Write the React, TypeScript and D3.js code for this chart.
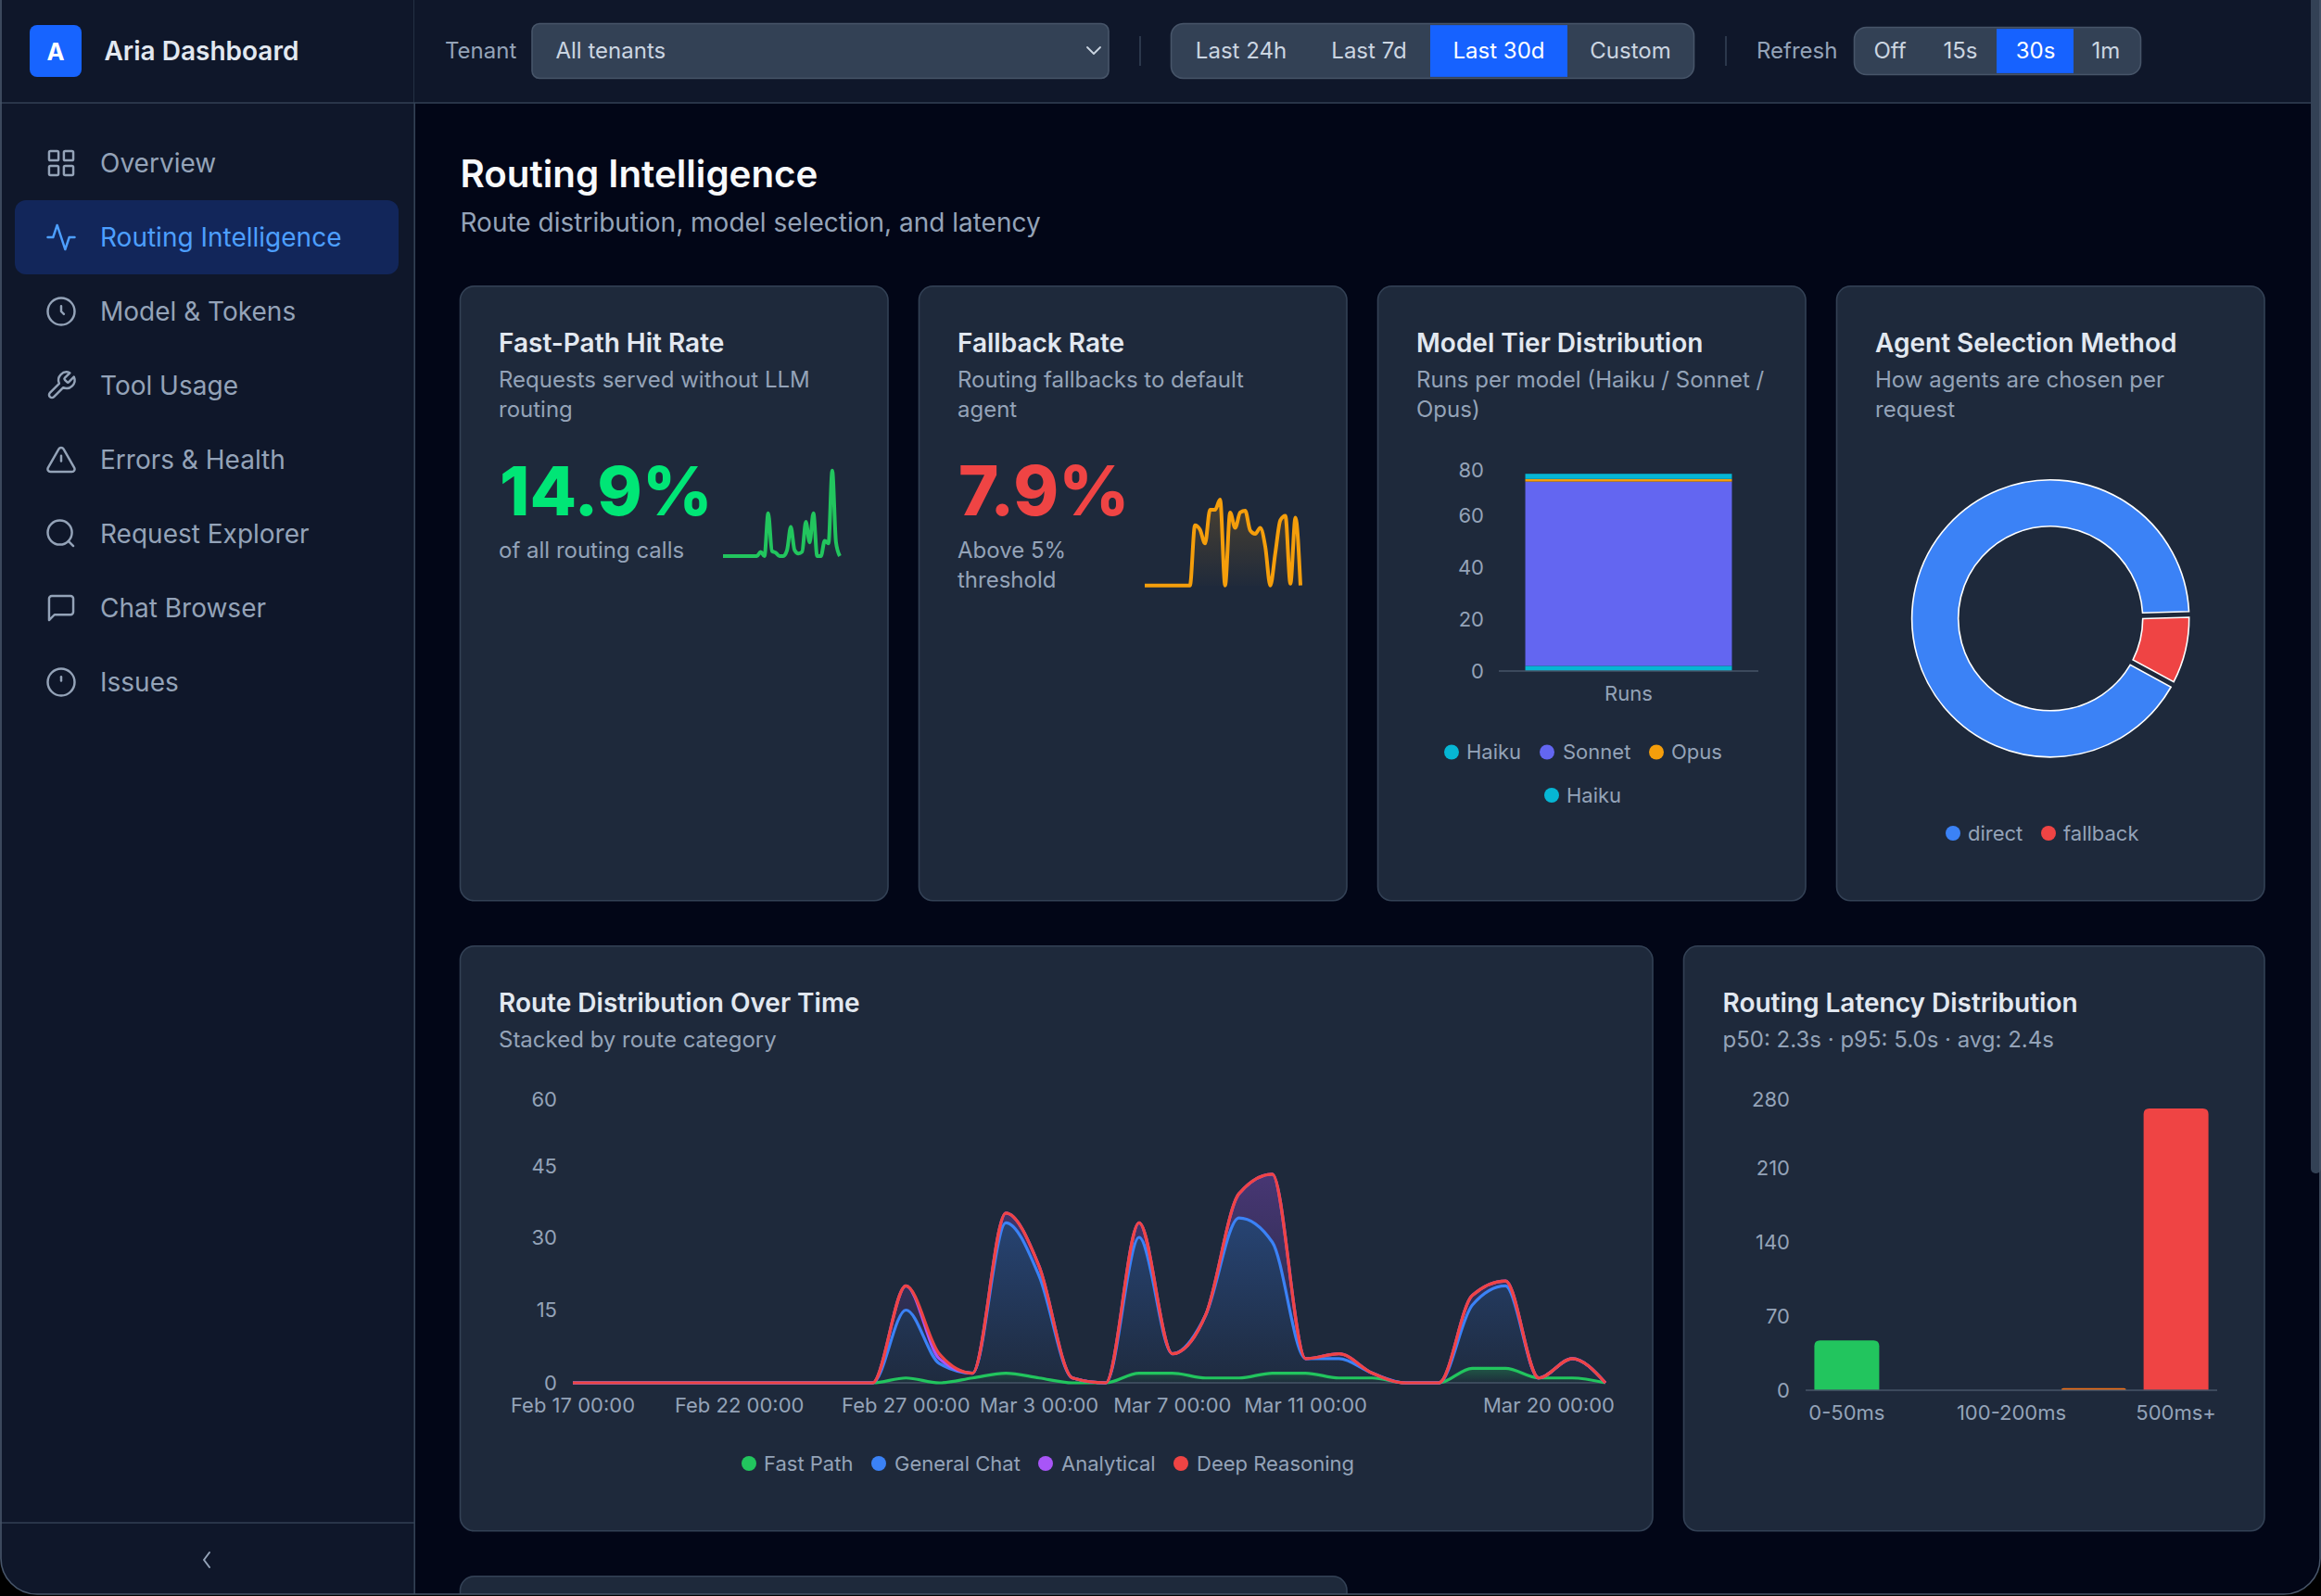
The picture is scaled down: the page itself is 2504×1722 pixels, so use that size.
import React from "react";
import * as d3 from "d3";

// ---------- data ----------
const navItems = ["Overview", "Routing Intelligence", "Model & Tokens", "Tool Usage", "Errors & Health", "Request Explorer", "Chat Browser", "Issues"];
const rangeOptions = ["Last 24h", "Last 7d", "Last 30d", "Custom"];
const refreshOptions = ["Off", "15s", "30s", "1m"];

const dayCount = 32;
const firstDay = new Date(2026, 1, 17);
const fastPath = [0,0,0,0,0,0,0,0,0,0,1,0,1,2,1,0,0,2,2,1,1,2,2,1,1,0,0,3,3,1,1,0];
const generalChat = [0,0,0,0,0,0,0,0,0,0,14,4,1,31,21,1,0,28,4,13,33,27,3,4,1,0,0,13,17,0,4,0];
const analytical = [0,0,0,0,0,0,0,0,0,0,5,1,0,2,2,0,0,3,0,0,5,14,0,1,0,0,0,2,1,0,0,0];
const deepReasoning = [0,0,0,0,0,0,0,0,0,0,0,1,0,0,0,0,0,0,0,0,0,0,0,0,0,0,0,0,0,0,0,0];
const routeNames = ["Fast Path", "General Chat", "Analytical", "Deep Reasoning"];
const routeColors = ["#22c55e", "#3b82f6", "#a855f7", "#ef4444"];
const routeTicks = [0, 15, 30, 45, 60];
const routeDateTicks = [[0, "Feb 17 00:00"], [5, "Feb 22 00:00"], [10, "Feb 27 00:00"], [14, "Mar 3 00:00"], [18, "Mar 7 00:00"], [22, "Mar 11 00:00"], [31, "Mar 20 00:00"]] as const;

const fastPathRate = [0,0,0,0,0,0,0,0,0,0,5,0,50,6,4,0,0,7,34,7,3,5,40,16,50,0,0,18,15,100,16,0];
const fallbackRate = [0,0,0,0,0,0,0,0,0,0,70,65,49,88,88,100,0,85,67,85,87,64,60,67,45,0,38,76,81,2,79,0];

const tierNames = ["Haiku", "Sonnet", "Opus", "Haiku"];
const tierValues = [2, 71, 1, 2];
const tierColors = ["#06b6d4", "#6366f1", "#f59e0b", "#06b6d4"];
const tierTicks = [0, 20, 40, 60, 80];

const methodNames = ["direct", "fallback"];
const methodValues = [92.1, 7.9];
const methodColors = ["#3b82f6", "#ef4444"];

const latencyBuckets = ["0-50ms", "50-100ms", "100-200ms", "200-500ms", "500ms+"];
const latencyValues = [47, 0, 0, 2, 266];
const latencyColors = ["#22c55e", "#84cc16", "#eab308", "#f97316", "#ef4444"];
const latencyTicks = [0, 70, 140, 210, 280];
const latencyLabels = ["0-50ms", "100-200ms", "500ms+"];

// ---------- palette ----------
const BG = "#020617";
const PANEL = "#0f172a";
const CARD = "#1e293b";
const LINE = "#334155";
const AXIS = "#475569";
const MUTED = "#94a3b8";
const TITLE = "#e2e8f0";
const FONT = "Inter, sans-serif";
const SMALL = 22;
const BODY = 24;
const NAV = 28;
const CARD_TITLE = 28;

type TP = { x: number; y: number; size: number; fill?: string; weight?: number; anchor?: string; children: React.ReactNode };
const T = ({ x, y, size, fill = MUTED, weight = 400, anchor = "start", children }: TP) => (
  <text x={x} y={weight !== 400 ? y : size === BODY ? y - 1 : y - 0.2} fontSize={size} fill={fill} fontWeight={weight} textAnchor={anchor as any} dominantBaseline="central" fontFamily={FONT}>{children}</text>
);

const Card = ({ x, y, w, h }: { x: number; y: number; w: number; h: number }) => (
  <rect x={x} y={y + 0.8} width={w} height={h} rx={15} fill={CARD} stroke={LINE} strokeWidth={1.6} />
);

const Legend = ({ items, y }: { items: [string, string, number, number][]; y: number }) => (
  <g>
    {items.map(([name, color, cx, tx]) => (
      <g key={name + cx}>
        <circle cx={cx} cy={y} r={8} fill={color} />
        <T x={tx} y={y} size={SMALL}>{name}</T>
      </g>
    ))}
  </g>
);

const iconPaths: React.ReactNode[] = [
  <><rect x="3" y="3" width="7" height="7" rx="1" /><rect x="14" y="3" width="7" height="7" rx="1" /><rect x="3" y="14" width="7" height="7" rx="1" /><rect x="14" y="14" width="7" height="7" rx="1" /></>,
  <path d="M22 12h-4l-3 9L9 3l-3 9H2" />,
  <><circle cx="12" cy="12" r="10" /><path d="M12 8v4l2 2" /></>,
  <path d="M14.7 6.3a1 1 0 0 0 0 1.4l1.6 1.6a1 1 0 0 0 1.4 0l3.77-3.77a6 6 0 0 1-7.94 7.94l-6.91 6.91a2.12 2.12 0 0 1-3-3l6.91-6.91a6 6 0 0 1 7.94-7.94l-3.76 3.76z" />,
  <><path d="m21.73 18-8-14a2 2 0 0 0-3.48 0l-8 14A2 2 0 0 0 4 21h16a2 2 0 0 0 1.73-3" /><path d="M12 9v4" /></>,
  <><circle cx="11" cy="11" r="9" /><path d="m21 21-3.6-3.6" /></>,
  <path d="M21 15a2 2 0 0 1-2 2H7l-4 4V5a2 2 0 0 1 2-2h14a2 2 0 0 1 2 2z" />,
  <><circle cx="12" cy="12" r="10" /><path d="M12 8v3" /></>,
];

function Sidebar() {
  const s = 1.45;
  return (
    <g>
      <rect x={0} y={0} width={447} height={1722} fill={PANEL} />
      <rect x={32} y={27} width={56} height={56} rx={8} fill="#1764ff" />
      <T x={60} y={55} size={25.6} fill="#fff" weight={700} anchor="middle">A</T>
      <T x={112.5} y={55} size={28} fill={TITLE} weight={600}>Aria Dashboard</T>
      <rect x={16} y={216} width={414} height={80} rx={12} fill="#12265a" />
      {navItems.map((name, i) => {
        const cy = 176 + i * 80;
        const active = i === 1;
        const col = active ? "#4d9fff" : MUTED;
        return (
          <g key={name}>
            <g transform={`translate(${66 - 12 * s},${cy - 12 * s}) scale(${s})`} fill="none" stroke={col} strokeWidth={1.7} strokeLinecap="round" strokeLinejoin="round">
              {iconPaths[i]}
            </g>
            <T x={108} y={cy} size={NAV} fill={col}>{name}</T>
          </g>
        );
      })}
      <line x1={0} x2={447} y1={1643} y2={1643} stroke={LINE} strokeWidth={1.6} />
      <path d="M226 1675l-6 8 6 8" fill="none" stroke={MUTED} strokeWidth={2} strokeLinecap="round" strokeLinejoin="round" />
      <line x1={447.2} x2={447.2} y1={0} y2={1722} stroke={LINE} strokeWidth={1.6} />
    </g>
  );
}

function Segmented({ x, y, w, h, labels, centers, active, activeX, activeW }: { x: number; y: number; w: number; h: number; labels: string[]; centers: number[]; active: number; activeX: number; activeW: number }) {
  return (
    <g>
      <rect x={x} y={y} width={w} height={h} rx={13} fill={LINE} stroke={AXIS} strokeWidth={1.6} />
      <rect x={activeX} y={y + 1.6} width={activeW} height={h - 3.2} fill="#1662ff" />
      {labels.map((l, i) => (
        <T key={l} x={centers[i]} y={55} size={BODY} fill={i === active ? "#fff" : "#cbd5e1"} anchor="middle">{l}</T>
      ))}
    </g>
  );
}

function Header() {
  return (
    <g>
      <rect x={447} y={0} width={2046} height={111} fill={PANEL} />
      <line x1={0} x2={2493} y1={111} y2={111} stroke={LINE} strokeWidth={1.6} />
      <T x={480} y={55} size={BODY}>Tenant</T>
      <rect x={574} y={25.5} width={622} height={59} rx={8} fill={LINE} stroke={AXIS} strokeWidth={1.6} />
      <T x={599.5} y={55} size={BODY} fill="#cbd5e1">All tenants</T>
      <path d="M1173 51l7 7 7-7" fill="none" stroke="#cbd5e1" strokeWidth={1.8} strokeLinecap="round" strokeLinejoin="round" />
      <line x1={1230} x2={1230} y1={39} y2={71} stroke={LINE} strokeWidth={1.6} />
      <Segmented x={1263.5} y={25.5} w={564} h={59} labels={rangeOptions} centers={[1339, 1477, 1617, 1759]} active={2} activeX={1543} activeW={148} />
      <line x1={1862} x2={1862} y1={39} y2={71} stroke={LINE} strokeWidth={1.6} />
      <T x={1895} y={55} size={BODY}>Refresh</T>
      <Segmented x={2000.5} y={29.5} w={309} h={51} labels={refreshOptions} centers={[2039, 2115, 2196, 2272]} active={2} activeX={2154} activeW={83} />
    </g>
  );
}

function Spark({ values, x0, x1, yTop, yBase, color, id }: { values: number[]; x0: number; x1: number; yTop: number; yBase: number; color: string; id: string }) {
  const x = d3.scaleLinear().domain([0, values.length - 1]).range([x0, x1]);
  const y = d3.scaleLinear().domain([0, 100]).range([yBase, yTop]);
  const line = d3.line<number>().x((_, i) => x(i)).y((d) => y(d)).curve(d3.curveMonotoneX);
  const area = d3.area<number>().x((_, i) => x(i)).y0(yBase).y1((d) => y(d)).curve(d3.curveMonotoneX);
  return (
    <g>
      <defs>
        <linearGradient id={id} x1="0" y1="0" x2="0" y2="1">
          <stop offset="0%" stopColor={color} stopOpacity={0.2} />
          <stop offset="100%" stopColor={color} stopOpacity={0.01} />
        </linearGradient>
      </defs>
      <path d={area(values)!} fill={`url(#${id})`} />
      <path d={line(values)!} fill="none" stroke={color} strokeWidth={4} />
    </g>
  );
}

function ModelTier() {
  const y = d3.scaleLinear().domain([0, 80]).range([724, 500]);
  const x = d3.scaleBand<string>().domain(["Runs"]).range([1617, 1897]).paddingInner(0).paddingOuter(0.128);
  const stacked = d3.stack<number[]>().keys(tierValues.map((_, i) => String(i))).value((d, k) => d[+k])([tierValues]);
  return (
    <g>
      {tierTicks.map((t) => (
        <T key={t} x={1601} y={y(t) + (t === 80 ? 7 : 0)} size={SMALL} anchor="end">{t}</T>
      ))}
      {stacked.map((s, i) => (
        <rect key={i} x={x("Runs")} width={x.bandwidth()} y={y(s[0][1])} height={y(s[0][0]) - y(s[0][1])} fill={tierColors[i]} />
      ))}
      <line x1={1617} x2={1897} y1={724} y2={724} stroke={AXIS} strokeWidth={1.6} />
      <T x={x("Runs")! + x.bandwidth() / 2} y={748} size={SMALL} anchor="middle">Runs</T>
      <Legend y={811.5} items={[[tierNames[0], tierColors[0], 1566, 1582], [tierNames[1], tierColors[1], 1669, 1686], [tierNames[2], tierColors[2], 1787, 1803]]} />
      <Legend y={858} items={[[tierNames[3], tierColors[3], 1674, 1690]]} />
    </g>
  );
}

function Donut() {
  const start = Math.PI / 2 + (methodValues[1] / 100) * 2 * Math.PI;
  const pie = d3.pie<number>().sort(null).startAngle(start).endAngle(start + 2 * Math.PI).padAngle((2 * Math.PI) / 180);
  const arc = d3.arc<d3.PieArcDatum<number>>().innerRadius(99.5).outerRadius(149.5);
  const arcs = pie(methodValues);
  return (
    <g transform="translate(2212.2,667.3)">
      {arcs.map((a, i) => (
        <path key={i} d={arc(a)!} fill={methodColors[i]} stroke="#fff" strokeWidth={1.6} />
      ))}
    </g>
  );
}

function RouteChart() {
  const x = d3.scaleTime().domain([firstDay, d3.timeDay.offset(firstDay, dayCount - 1)]).range([618, 1732]);
  const y = d3.scaleLinear().domain([0, 60]).range([1492, 1178]);
  const rows = d3.range(dayCount).map((i) => ({ i, f: fastPath[i], g: generalChat[i], a: analytical[i], d: deepReasoning[i] }));
  const series = d3.stack<any>().keys(["f", "g", "a", "d"])(rows);
  const px = (i: number) => x(d3.timeDay.offset(firstDay, i));
  const area = d3.area<any>().x((_, i) => px(i)).y0((d) => y(d[0])).y1((d) => y(d[1])).curve(d3.curveMonotoneX);
  const line = d3.line<any>().x((_, i) => px(i)).y((d) => y(d[1])).curve(d3.curveMonotoneX);
  return (
    <g>
      <defs>
        {routeColors.map((c, i) => (
          <linearGradient key={c} id={`route${i}`} x1="0" y1="0" x2="0" y2="1">
            <stop offset="0%" stopColor={c} stopOpacity={0.3} />
            <stop offset="100%" stopColor={c} stopOpacity={0.02} />
          </linearGradient>
        ))}
      </defs>
      {routeTicks.map((t) => (
        <T key={t} x={601} y={y(t) + (t === 60 ? 8 : t === 45 ? 1.5 : 0)} size={SMALL} anchor="end">{t}</T>
      ))}
      <line x1={618} x2={1732} y1={1492} y2={1492} stroke={AXIS} strokeWidth={1.6} />
      {routeDateTicks.map(([i, label]) => (
        i === 31
          ? <T key={label} x={px(i) + 10} y={1516} size={SMALL} anchor="end">{label}</T>
          : <T key={label} x={px(i)} y={1516} size={SMALL} anchor="middle">{label}</T>
      ))}
      {series.map((s, i) => <path key={i} d={area(s as any)!} fill={`url(#route${i})`} />)}
      {series.map((s, i) => <path key={i} d={line(s as any)!} fill="none" stroke={routeColors[i]} strokeWidth={3.2} />)}
      <Legend y={1579} items={[[routeNames[0], routeColors[0], 808, 824], [routeNames[1], routeColors[1], 948, 965], [routeNames[2], routeColors[2], 1128, 1145], [routeNames[3], routeColors[3], 1274, 1291]]} />
    </g>
  );
}

function topRounded(x: number, y: number, w: number, h: number, r: number) {
  const q = Math.min(r, h);
  return `M${x},${y + h}V${y + q}Q${x},${y} ${x + q},${y}H${x + w - q}Q${x + w},${y} ${x + w},${y + q}V${y + h}Z`;
}

function LatencyChart() {
  const p = 0.212;
  const x = d3.scaleBand<string>().domain(latencyBuckets).range([1948, 2392]).paddingInner(p).paddingOuter(p / 2);
  const y = d3.scaleLinear().domain([0, 280]).range([1500, 1180]);
  return (
    <g>
      {latencyTicks.map((t) => (
        <T key={t} x={1931} y={y(t) + (t === 280 ? 6 : 0)} size={SMALL} anchor="end">{t}</T>
      ))}
      {latencyValues.map((v, i) => v > 0 && (
        <path key={i} d={topRounded(x(latencyBuckets[i])!, y(v), x.bandwidth(), y(0) - y(v), 6)} fill={latencyColors[i]} />
      ))}
      <line x1={1948} x2={2392} y1={1500} y2={1500} stroke={AXIS} strokeWidth={1.6} />
      {latencyLabels.map((l) => (
        <T key={l} x={x(l)! + x.bandwidth() / 2} y={1524} size={SMALL} anchor="middle">{l}</T>
      ))}
    </g>
  );
}

export default function App() {
  return (
    <svg width={2504} height={1722} viewBox="0 0 2504 1722" style={{ position: "fixed", left: 0, top: 0, display: "block", background: BG }}>
      <rect width={2504} height={1722} fill={BG} />
      <Sidebar />
      <Header />

      <T x={496.5} y={187.5} size={40.3} fill="#f8fafc" weight={600}>Routing Intelligence</T>
      <T x={496.5} y={240} size={28}>Route distribution, model selection, and latency</T>

      <Card x={496.5} y={308} w={461.5} h={663} />
      <T x={538} y={370} size={CARD_TITLE} fill={TITLE} weight={600}>Fast-Path Hit Rate</T>
      <T x={538} y={410} size={BODY}>Requests served without LLM</T>
      <T x={538} y={442} size={BODY}>routing</T>
      <T x={539} y={529} size={73.5} fill="#00e676" weight={800}>14.9%</T>
      <T x={538} y={594} size={BODY}>of all routing calls</T>
      <Spark values={fastPathRate} x0={780} x1={906} yTop={507.7} yBase={600} color="#22c55e" id="sparkA" />

      <Card x={991.5} y={308} w={461.5} h={663} />
      <T x={1033} y={370} size={CARD_TITLE} fill={TITLE} weight={600}>Fallback Rate</T>
      <T x={1033} y={410} size={BODY}>Routing fallbacks to default</T>
      <T x={1033} y={442} size={BODY}>agent</T>
      <T x={1034} y={529} size={74} fill="#ef4444" weight={800}>7.9%</T>
      <T x={1033} y={594} size={BODY}>Above 5%</T>
      <T x={1033} y={626} size={BODY}>threshold</T>
      <Spark values={fallbackRate} x0={1235} x1={1403} yTop={539} yBase={631.7} color="#f59e0b" id="sparkB" />

      <Card x={1486.5} y={308} w={461.5} h={663} />
      <T x={1528} y={370} size={CARD_TITLE} fill={TITLE} weight={600}>Model Tier Distribution</T>
      <T x={1528} y={410} size={BODY}>Runs per model (Haiku / Sonnet /</T>
      <T x={1528} y={442} size={BODY}>Opus)</T>
      <ModelTier />

      <Card x={1981.5} y={308} w={461.5} h={663} />
      <T x={2023} y={370} size={CARD_TITLE} fill={TITLE} weight={600}>Agent Selection Method</T>
      <T x={2023} y={410} size={BODY}>How agents are chosen per</T>
      <T x={2023} y={442} size={BODY}>request</T>
      <Donut />
      <Legend y={899} items={[[methodNames[0], methodColors[0], 2107, 2123], [methodNames[1], methodColors[1], 2210, 2226]]} />

      <Card x={496.5} y={1020} w={1286.5} h={631} />
      <T x={538} y={1082} size={CARD_TITLE} fill={TITLE} weight={600}>Route Distribution Over Time</T>
      <T x={538} y={1122} size={BODY}>Stacked by route category</T>
      <RouteChart />

      <Card x={1816.5} y={1020} w={626.5} h={631} />
      <T x={1858.5} y={1082} size={CARD_TITLE} fill={TITLE} weight={600}>Routing Latency Distribution</T>
      <T x={1858.5} y={1122} size={BODY}>p50: 2.3s · p95: 5.0s · avg: 2.4s</T>
      <LatencyChart />

      <Card x={496.5} y={1700} w={956.5} h={100} />

      {/* scrollbar */}
      <rect x={2493} y={0} width={11} height={1722} fill={BG} />
      <rect x={2493} y={-10} width={11} height={1276} rx={5} fill={LINE} />
      {/* window frame */}
      <path fillRule="evenodd" fill="#000" d="M0,0H2504V1722H0ZM0,-60V1680A40,40 0 0 0 40,1720H2464A40,40 0 0 0 2504,1680V-60Z" />
      <path fill="none" stroke={AXIS} strokeWidth={1.6} d="M1,0V1680A39,39 0 0 0 40,1720H2464A39,39 0 0 0 2503,1680V0" />
    </svg>
  );
}
